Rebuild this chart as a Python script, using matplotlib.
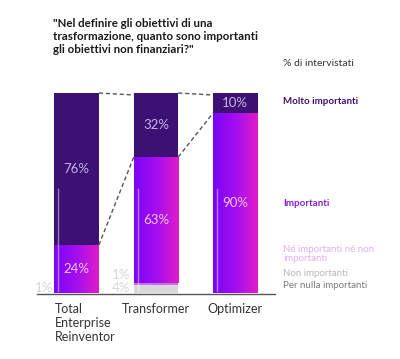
import matplotlib
matplotlib.use("Agg")
import matplotlib.pyplot as plt
import numpy as np
from matplotlib.colors import LinearSegmentedColormap

plt.rcParams['font.family'] = ['Lato', 'DejaVu Sans']

categories = ["Total\nEnterprise\nReinventor", "Transformer", "Optimizer"]
per_nulla = [0, 0, 0]
non_imp = [1, 4, 0]
ne_ne = [0, 1, 0]
importanti = [24, 63, 90]
molto = [76, 32, 10]

legend_labels = ["Molto importanti", "Importanti", "Né importanti né non\nimportanti",
                 "Non importanti", "Per nulla importanti"]

W, H = 400, 359
fig = plt.figure(figsize=(W/100, H/100), dpi=100)
# axes in pixel terms
x0, x1 = 37, 275
y0, y1 = 293, 93
ax = fig.add_axes([x0/W, (H-y0)/H, (x1-x0)/W, (y0-y1)/H])
ax.set_xlim(-0.5, 2.5)
ax.set_ylim(0, 100)
ax.axis('off')
ax.plot([-0.5, 2.5], [-0.4, -0.4], color='#555555', lw=1.0, clip_on=False)

w = 0.56
xs = np.arange(len(categories))
dark = '#3d1173'
grad = LinearSegmentedColormap.from_list('g', ['#7a05f5', '#a30ef0', '#e01cc8'])
gimg = np.linspace(0, 1, 64).reshape(1, -1)

for i, x in enumerate(xs):
    b = 0
    # non importanti
    if non_imp[i] > 0 and i == 1:
        ax.bar(x, non_imp[i], w, bottom=b, color='#d9d9d9', lw=0)
    b += non_imp[i] if i == 1 else 0
    if ne_ne[i] > 0:
        ax.bar(x, ne_ne[i], w, bottom=b, color='#c86ee8', lw=0)
        b += ne_ne[i]
    bi = 0 if i == 0 else b
    # importanti gradient
    ax.imshow(gimg, cmap=grad, aspect='auto', extent=(x-w/2, x+w/2, bi, bi+importanti[i]),
              zorder=2, interpolation='bilinear')
    top_imp = bi + importanti[i]
    ax.bar(x, molto[i], w, bottom=top_imp, color=dark, lw=0, zorder=2)
    # highlight line
    hl_top = min(top_imp + molto[i]*0.6, 52)
    ax.plot([x-w/2+0.05, x-w/2+0.05], [1, 52], color='white', alpha=0.45, lw=1.0, zorder=3)
    # labels
    ax.text(x, top_imp + molto[i]/2, f"{molto[i]}%", ha='center', va='center',
            color='#c9b3e6', fontsize=9.5, zorder=4)
    ax.text(x, bi + importanti[i]/2 - (0 if i else 0), f"{importanti[i]}%", ha='center', va='center',
            color='#f0c6f5', fontsize=9.5, zorder=4)

ax.set_xlim(-0.5, 2.5)
ax.set_ylim(0, 100)

# small labels
ax.text(-w/2 - 0.02, 2.5, f"{non_imp[0]}%", ha='right', va='center', color='#d6d6d6', fontsize=9.5)
ax.text(1 - w/2 - 0.04, 9, f"{ne_ne[1]}%", ha='right', va='center', color='#d6d6d6', fontsize=9.5)
ax.text(1 - w/2 - 0.04, 2.5, f"{non_imp[1]}%", ha='right', va='center', color='#d6d6d6', fontsize=9.5)

# connectors
tops = [100, 100, 100]
bnds = [importanti[0], non_imp[1] + ne_ne[1] + importanti[1], importanti[2]]
for i in range(2):
    ax.plot([xs[i]+w/2, xs[i+1]-w/2], [tops[i], tops[i+1]-1], ls=(0, (3, 2)), color='#555555', lw=1, clip_on=False)
    ax.plot([xs[i]+w/2, xs[i+1]-w/2], [bnds[i], bnds[i+1]], ls=(0, (3, 2)), color='#555555', lw=1, clip_on=False)

# category labels
ax.text(-w/2, -5, categories[0], ha='left', va='top', fontsize=9, color='#333333', linespacing=1.2)
ax.text(1, -5, categories[1], ha='center', va='top', fontsize=9, color='#333333')
ax.text(2, -5, categories[2], ha='center', va='top', fontsize=9, color='#333333')

# title
fig.text(53/W, 1-18/H, '"Nel definire gli obiettivi di una\ntrasformazione, quanto sono importanti\ngli obiettivi non finanziari?"',
         ha='left', va='top', fontsize=8.3, fontweight='bold', color='#1a1a1a', linespacing=1.2)
fig.text(283/W, 1-63/H, "% di intervistati", ha='left', va='center', fontsize=7.5, color='#333333')

# legend labels
lx = 283/W
fig.text(lx, 1-102/H, legend_labels[0], ha='left', va='center', fontsize=7, fontweight='bold', color='#3d1173')
fig.text(lx, 1-203/H, legend_labels[1], ha='left', va='center', fontsize=7, fontweight='bold', color='#8a1fd0')
fig.text(lx, 1-254/H, legend_labels[2], ha='left', va='center', fontsize=7, color='#dcb2ef', linespacing=1.0)
fig.text(lx, 1-273/H, legend_labels[3], ha='left', va='center', fontsize=7, color='#b8b8b8')
fig.text(lx, 1-286/H, legend_labels[4], ha='left', va='center', fontsize=7, color='#7a7a7a')

fig.savefig("out.png", dpi=100)
